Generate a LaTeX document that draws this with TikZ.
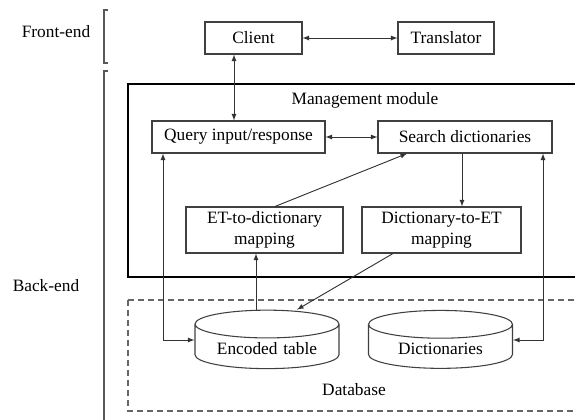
\documentclass[tikz,border=0pt]{standalone}
\usepackage{fontspec}
\setmainfont{Liberation Serif}
\usetikzlibrary{positioning,shapes,arrows}

\begin{document}
\begin{tikzpicture}[x=0.75pt,y=-0.75pt,font=\fontsize{13}{15.5}\selectfont]
\tikzstyle{block}=[rectangle, draw=black!75, line width=0.8pt, inner sep=2pt, align=center]
\tikzstyle{store}=[cylinder, shape border rotate=90, aspect=0.22, draw=black!75, line width=0.8pt, text width=88pt, align=center, minimum width=108pt, minimum height=33pt]
\tikzstyle{link}=[-latex, black!80, line width=0.7pt]
\tikzstyle{both}=[latex-latex, black!80, line width=0.7pt]
\tikzstyle{brace}=[black!65, line width=1pt]

\useasboundingbox (0,0) rectangle (575,420);
\clip (0,0) rectangle (575,420);

% front-end / back-end
\node (front) at (56,32) {Front-end};
\node (back) at (46,286) {Back-end};
\draw[brace] (108,10) -- (104,10) -- (104,63) -- (108,63);
\draw[brace] (108,71) -- (104,71) -- (104,425);

% frames
\draw[line width=1.6pt] (128,84) rectangle (590,277);
\draw[black!60, line width=0.8pt, dash pattern=on 4.5pt off 3pt] (128,300) rectangle (590,411);
\node (mgmt) at (365,100) {Management module};
\node (db) at (354,390) {Database};

	\node[block, minimum width=72.75pt, minimum height=24pt] (client) at (253.5,38) {Client};
	\node[block, minimum width=72pt, minimum height=24pt] (translator) at (446,38) {Translator};
	\node[block, minimum width=129.75pt, minimum height=24pt] (query) at (238.5,137) {Query input/response};
	\node[block, minimum width=130.5pt, minimum height=24pt] (search) at (465,137) {Search dictionaries};
	\node[block, minimum width=117.75pt, minimum height=34.5pt] (et2dict) at (264.5,230) {ET-to-dictionary\\mapping};
	\node[block, minimum width=119.25pt, minimum height=34.5pt] (dict2et) at (441.5,230) {Dictionary-to-ET\\mapping};
	\node[store] (encoded) at (267,349) {Encoded table};
	\node[store] (dicts) at (440.5,349) {Dictionaries};

	\coordinate (cq) at (234,0);
	\coordinate (sd) at (462,0);
	\coordinate (ee) at (256,0);
	\coordinate (qe) at (163,0);
	\coordinate (sx) at (543,0);

	\draw[both] (client.south -| cq) -- (query.north -| cq);
	\draw[both] (client) -- (translator);
	\draw[both] (query) -- (search);
	\draw[link] (search.south -| sd) -- (dict2et.north -| sd);
	\draw[link] ([xshift=7.9pt]et2dict.north) -- ([xshift=-43.5pt]search.south);
	\draw[link] (encoded.north -| ee) -- (et2dict.south -| ee);
	\draw[link] ([xshift=-36.4pt]dict2et.south) -- ([xshift=22.5pt]encoded.north);
	\draw[both] (query.south -| qe) |- ([yshift=6.75pt]encoded.west);
	\draw[both] (search.south -| sx) |- ([yshift=6.75pt]dicts.east);

\end{tikzpicture}
\end{document}
